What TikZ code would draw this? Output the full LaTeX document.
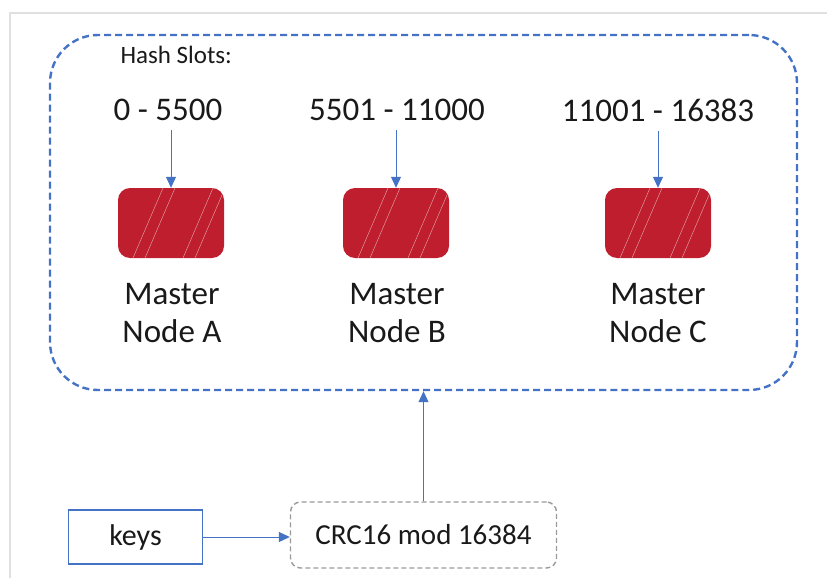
\documentclass[tikz,border=0pt]{standalone}
\usepackage{fontspec}
\setmainfont{Carlito}
\usepackage{tikz}
\usetikzlibrary{arrows.meta}
\definecolor{slotblue}{HTML}{4472C4}
\definecolor{masterred}{HTML}{BE1E2D}
\definecolor{crcgray}{HTML}{9A9A9A}
\tikzset{
  hashbox/.style={draw=slotblue, line width=2.4pt, dash pattern=on 7pt off 4pt, rounded corners=48pt},
  master/.style={fill=masterred, draw=none, rounded corners=12pt, minimum width=106pt, minimum height=70pt,
    path picture={
      \foreach \s in {-38,-26,12,24}
        \draw[white, opacity=0.55, line width=0.5pt]
          ([xshift=\s pt]path picture bounding box.south) -- ++(30pt,70pt);
    }},
  slotlabel/.style={font=\fontsize{33}{36}\selectfont, text=black!90},
  masterlabel/.style={font=\fontsize{33}{38}\selectfont, align=center, text=black!90},
  keybox/.style={draw=slotblue, line width=1.6pt, minimum width=134pt, minimum height=54pt,
    font=\fontsize{30}{32}\selectfont, text=black!90},
  crcbox/.style={draw=crcgray, line width=1.4pt, dash pattern=on 5pt off 3pt, rounded corners=10pt,
    minimum width=266pt, minimum height=66pt, font=\fontsize{29}{32}\selectfont, text=black!90},
  arrow/.style={-{Triangle[length=11pt,width=10pt]}, draw=slotblue, line width=1pt}
}
\begin{document}
\begin{tikzpicture}[x=1pt,y=-1pt]
  \useasboundingbox (0,0) rectangle (827,578);
  % faint page frame
  \draw[black!12, line width=1.2pt] (10,578) -- (10,13) -- (827,13);
  % hash slot container
  \node[hashbox, minimum width=747pt, minimum height=355pt] (slots) at (423.5,212.5) {};
  \node[font=\fontsize{25}{28}\selectfont, anchor=west, text=black!90] (title) at (117,55) {Hash Slots:};
  % ranges
  \node[slotlabel] (rangeA) at (168,110) {0 - 5500};
  \node[slotlabel] (rangeB) at (397,110) {5501 - 11000};
  \node[slotlabel] (rangeC) at (658,110) {11001 - 16383};
  % masters
  \node[master] (boxA) at (171,223) {};
  \node[master] (boxB) at (396,223) {};
  \node[master] (boxC) at (658,223) {};
  \node[masterlabel] (nodeA) at (172,313) {Master\\Node A};
  \node[masterlabel] (nodeB) at (397,313) {Master\\Node B};
  \node[masterlabel] (nodeC) at (658,313) {Master\\Node C};
  \draw[arrow, shorten <=6pt] (boxA.north |- rangeA.south) -- (boxA.north);
  \draw[arrow, shorten <=6pt] (boxB.north |- rangeB.south) -- (boxB.north);
  \draw[arrow, shorten <=6pt] (boxC.north |- rangeC.south) -- (boxC.north);
  % keys and hashing
  \node[keybox] (keys) at (135.5,537) {keys};
  \node[crcbox] (crc) at (423.5,535) {CRC16 mod 16384};
  \draw[arrow] (keys.east) -- (keys.east -| crc.west);
  \draw[arrow] (crc.north) -- (crc.north |- slots.south);
\end{tikzpicture}
\end{document}
